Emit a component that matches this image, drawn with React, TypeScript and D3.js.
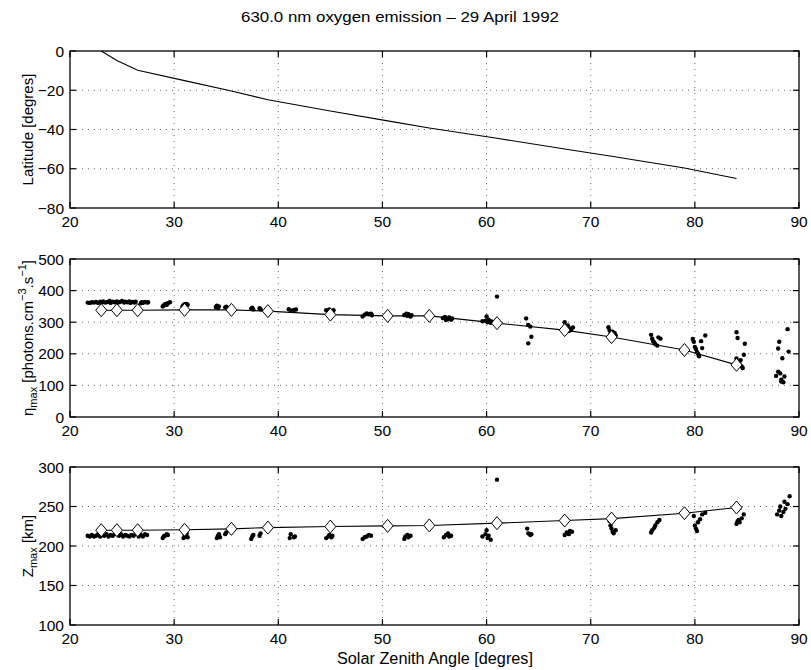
import React from "react";
import * as d3 from "d3";

const title = "630.0 nm oxygen emission \u2013 29 April 1992";
const xLabel = "Solar Zenith Angle [degres]";
const xTicks = [20, 30, 40, 50, 60, 70, 80, 90];
const latTicks = [0, -20, -40, -60, -80];
const etaTicks = [0, 100, 200, 300, 400, 500];
const zTicks = [100, 150, 200, 250, 300];

// latitude track
const latSza = [23, 24.5, 26.5, 31, 35.5, 39, 45, 50.5, 54.5, 61, 67.5, 72, 79, 84];
const latVal = [0, -4.8, -9.8, -15.1, -20.4, -24.8, -30.6, -35.6, -39.2, -44.5, -49.9, -53.6, -59.6, -65];

// fitted (diamond) values
const fitSza = [23, 24.5, 26.5, 31, 35.5, 39, 45, 50.5, 54.5, 61, 67.5, 72, 79, 84];
const fitEta = [338, 338, 338, 339, 339, 335, 324, 320, 320, 297, 275, 253, 212, 165];
const fitZ = [220, 220, 220, 220.5, 221.7, 223.3, 224.6, 225.5, 226, 228.9, 232.2, 234.7, 241.5, 248.7];

// measured points [SZA, eta]
const etaPts: [number, number][] = [
  [21.7,362],[21.9,361],[22.1,363],[22.3,362],[22.5,364],[22.7,361],[22.9,365],[23.1,363],[23.2,366],[23.4,362],
  [23.6,364],[23.8,367],[23.9,361],[24.1,365],[24.3,363],[24.5,366],[24.6,362],[24.8,364],[25.0,367],[25.2,362],
  [25.3,365],[25.5,363],[25.7,366],[25.8,361],[26.0,364],[26.2,362],[26.3,365],[26.8,360],[26.9,363],[27.0,361],
  [27.2,364],[27.4,362],[27.5,363],
  [28.9,350],[29.0,353],[29.1,356],[29.2,358],[29.3,355],[29.4,360],[29.6,363],
  [30.8,350],[30.9,354],[31.0,357],[31.1,352],[31.2,358],[31.3,355],
  [34.0,348],[34.1,352],[34.2,345],[34.3,350],[34.9,347],[35.0,349],[35.1,346],
  [37.4,343],[37.5,346],[37.6,340],[38.2,344],[38.3,341],
  [41.0,341],[41.2,337],[41.5,339],[41.7,340],
  [44.6,338],[44.8,333],[44.9,340],[45.1,335],[45.2,330],[45.3,338],
  [48.1,318],[48.3,324],[48.5,328],[48.7,325],[48.9,327],[49.0,322],
  [52.1,323],[52.3,327],[52.4,320],[52.5,325],[52.7,318],[52.8,322],
  [55.8,313],[56.0,317],[56.1,307],[56.3,310],[56.4,315],[56.6,308],[56.7,312],
  [59.6,303],[59.9,305],[60.0,318],[60.1,300],[60.2,308],[60.4,298],[60.5,302],[61.0,381],
  [63.8,312],[64.0,291],[64.2,286],[64.3,254],[64.0,233],
  [67.5,300],[67.6,285],[67.7,278],[67.8,290],[67.9,272],[68.0,280],[68.1,275],[68.3,283],
  [71.7,284],[71.8,275],[71.9,265],[72.0,260],[72.1,270],[72.2,255],[72.3,266],[72.4,258],
  [75.8,260],[75.9,248],[76.0,240],[76.1,236],[76.2,230],[76.4,226],[76.5,252],[76.7,248],
  [79.8,247],[79.9,238],[80.0,222],[80.1,215],[80.2,206],[80.3,200],[80.4,192],[80.6,240],[80.7,218],[81.0,258],
  [84.0,268],[84.1,250],[84.0,185],[84.2,175],[84.3,168],[84.5,160],[84.6,155],[84.8,232],[84.7,197],[84.4,180],
  [87.8,130],[88.0,143],[88.2,138],[88.3,118],[88.5,110],[88.6,128],[88.0,217],[88.1,238],[88.4,186],[88.9,278],[89.0,207],[88.3,112]
];

// measured points [SZA, Zmax]
const zPts: [number, number][] = [
  [21.7,213],[21.9,212],[22.1,214],[22.3,212],[22.5,213],[22.7,215],[22.9,212],[23.1,214],[23.3,213],[23.5,215],
  [23.7,212],[23.9,214],[24.1,213],[24.3,215],[24.5,216],[24.7,213],[24.9,215],[25.1,212],[25.3,214],[25.5,213],
  [25.7,212],[25.9,214],[26.1,213],[26.3,215],[26.6,212],[26.8,214],[27.0,212],[27.2,215],[27.4,214],
  [28.9,210],[29.0,212],[29.1,213],[29.3,215],[29.4,214],
  [30.9,210],[31.0,214],[31.1,212],[31.2,216],[31.3,211],
  [34.1,210],[34.2,213],[34.3,215],[34.4,211],[34.9,215],[35.0,217],
  [37.4,209],[37.5,212],[37.6,214],[38.2,213],[38.3,216],
  [41.1,210],[41.2,215],[41.5,211],[41.6,212],
  [44.6,210],[44.8,212],[44.9,214],[45.1,211],[45.2,213],
  [48.1,209],[48.3,211],[48.5,212],[48.7,214],[48.9,213],
  [52.1,209],[52.2,212],[52.4,214],[52.5,211],[52.7,213],
  [55.9,211],[56.1,214],[56.3,216],[56.4,212],[56.6,213],
  [59.6,212],[59.9,215],[60.0,220],[60.1,210],[60.2,213],[60.4,208],[61.0,284],
  [63.9,222],[64.0,216],[64.2,214],[64.3,215],
  [67.5,214],[67.7,217],[67.9,215],[68.0,219],[68.2,218],
  [71.8,232],[71.9,226],[72.0,222],[72.1,218],[72.2,216],[72.4,220],
  [75.8,217],[75.9,220],[76.1,223],[76.2,226],[76.4,230],[76.6,233],
  [79.9,238],[80.0,226],[80.1,222],[80.2,219],[80.3,230],[80.5,234],[80.7,240],[81.0,242],
  [84.0,228],[84.1,231],[84.2,233],[84.3,230],[84.5,235],[84.7,240],[84.3,248],
  [87.9,240],[88.1,245],[88.2,250],[88.3,238],[88.5,243],[88.7,247],[88.9,253],[89.1,263],[88.6,256]
];

const FONT = "'Liberation Sans', Arial, Helvetica, sans-serif";
const X0 = 70, X1 = 799;
const TL = 6;

const x = d3.scaleLinear().domain([20, 90]).range([X0, X1]);

type PanelProps = {
  top: number; bottom: number; domain: [number, number]; ticks: number[];
  children: (y: d3.ScaleLinear<number, number>) => React.ReactNode;
  label: React.ReactNode;
};

function Panel({ top, bottom, domain, ticks, children, label }: PanelProps) {
  const y = d3.scaleLinear().domain(domain).range([bottom, top]);
  const midY = (top + bottom) / 2;
  return (
    <g>
      {xTicks.slice(1, -1).map((t) => (
        <line key={"gx" + t} x1={x(t)} x2={x(t)} y1={top} y2={bottom} stroke="#444" strokeWidth={0.8} strokeDasharray="1,5" />
      ))}
      {ticks.filter((t) => t !== domain[0] && t !== domain[1]).map((t) => (
        <line key={"gy" + t} x1={X0} x2={X1} y1={y(t)} y2={y(t)} stroke="#444" strokeWidth={0.8} strokeDasharray="1,5" />
      ))}
      {children(y)}
      <rect x={X0} y={top} width={X1 - X0} height={bottom - top} fill="none" stroke="#000" strokeWidth={1.3} />
      {xTicks.map((t) => (
        <g key={"tx" + t}>
          <line x1={x(t)} x2={x(t)} y1={bottom} y2={bottom - TL} stroke="#000" strokeWidth={1.2} />
          <line x1={x(t)} x2={x(t)} y1={top} y2={top + TL} stroke="#000" strokeWidth={1.2} />
          <text x={x(t)} y={bottom + 19} textAnchor="middle" fontSize={15.5} fontFamily={FONT}>{t}</text>
        </g>
      ))}
      {ticks.map((t) => (
        <g key={"ty" + t}>
          <line x1={X0} x2={X0 + TL} y1={y(t)} y2={y(t)} stroke="#000" strokeWidth={1.2} />
          <line x1={X1} x2={X1 - TL} y1={y(t)} y2={y(t)} stroke="#000" strokeWidth={1.2} />
          <text x={64} y={y(t) + 5.5} textAnchor="end" fontSize={15.5} fontFamily={FONT}>
            {t < 0 ? "\u2212" + Math.abs(t) : t}
          </text>
        </g>
      ))}
      <text transform={`translate(33,${midY}) rotate(-90)`} textAnchor="middle" fontSize={15} fontFamily={FONT}>
        {label}
      </text>
    </g>
  );
}

function Diamonds({ vals, y }: { vals: number[]; y: d3.ScaleLinear<number, number> }) {
  return (
    <g>
      <path d={d3.line<number>().x((_, i) => x(fitSza[i])).y((d) => y(d))(vals) || ""} fill="none" stroke="#000" strokeWidth={1.1} />
      {vals.map((v, i) => (
        <path key={"d" + i} d={`M${x(fitSza[i])},${y(v) - 6.5}l5.5,6.5l-5.5,6.5l-5.5,-6.5z`} fill="#fff" stroke="#000" strokeWidth={1} />
      ))}
    </g>
  );
}

export default function App() {
  return (
    <div style={{ position: "absolute", left: 0, top: 0 }}>
      <svg width={811} height={670} style={{ display: "block", background: "#fff" }}>
        <text x={400} y={22} textAnchor="middle" fontSize={15} fontFamily={FONT} textLength={318} lengthAdjust="spacingAndGlyphs">{title}</text>
        <Panel top={51} bottom={208} domain={[-80, 0]} ticks={latTicks} label={<tspan>Latitude [degres]</tspan>}>
          {(y) => (
            <path d={d3.line<number>().x((_, i) => x(latSza[i])).y((d) => y(d))(latVal) || ""} fill="none" stroke="#000" strokeWidth={1.1} />
          )}
        </Panel>
        <Panel top={259} bottom={417} domain={[0, 500]} ticks={etaTicks}
          label={<>
            <tspan>{"\u03B7"}</tspan>
            <tspan fontSize={11} dy={4}>max</tspan>
            <tspan dy={-4}>{" [photons.cm"}</tspan>
            <tspan fontSize={11} dy={-7}>{"\u22123"}</tspan>
            <tspan dy={7}>.s</tspan>
            <tspan fontSize={11} dy={-7}>{"\u22121"}</tspan>
            <tspan dy={7}>]</tspan>
          </>}>
          {(y) => (
            <g>
              {etaPts.map((p, i) => <circle key={i} cx={x(p[0])} cy={y(p[1])} r={2.2} fill="#000" />)}
              <Diamonds vals={fitEta} y={y} />
            </g>
          )}
        </Panel>
        <Panel top={467} bottom={625} domain={[100, 300]} ticks={zTicks}
          label={<>
            <tspan>Z</tspan>
            <tspan fontSize={11} dy={4}>max</tspan>
            <tspan dy={-4}>{" [km]"}</tspan>
          </>}>
          {(y) => (
            <g>
              {zPts.map((p, i) => <circle key={i} cx={x(p[0])} cy={y(p[1])} r={2.2} fill="#000" />)}
              <Diamonds vals={fitZ} y={y} />
            </g>
          )}
        </Panel>
        <text x={435} y={664} textAnchor="middle" fontSize={16} fontFamily={FONT} textLength={196} lengthAdjust="spacingAndGlyphs">{xLabel}</text>
      </svg>
    </div>
  );
}
